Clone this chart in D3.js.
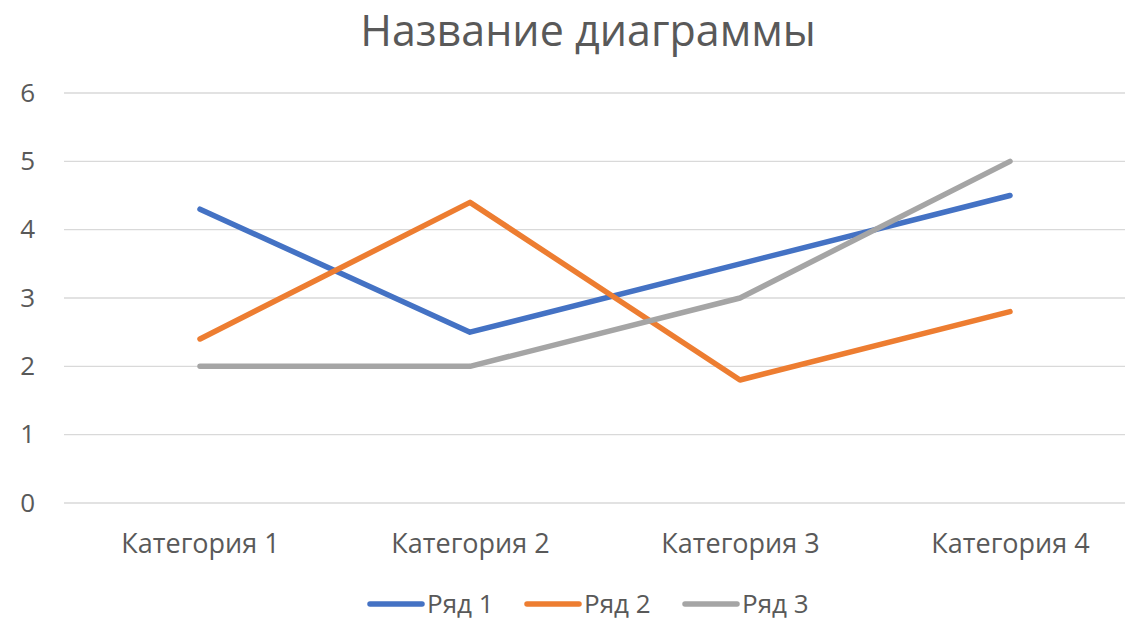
<!DOCTYPE html>
<html>
<head>
<meta charset="utf-8">
<script src="https://cdn.jsdelivr.net/npm/d3@7"></script>
<style>
  body { margin: 0; background: #fff; }
  text { font-family: "Open Sans", "Noto Sans", sans-serif; fill: #595959; }
</style>
</head>
<body>
<div id="chart-container"></div>
<script>
// data
const categories = ["Категория 1", "Категория 2", "Категория 3", "Категория 4"];
const seriesNames = ["Ряд 1", "Ряд 2", "Ряд 3"];
const series1 = [4.3, 2.5, 3.5, 4.5];
const series2 = [2.4, 4.4, 1.8, 2.8];
const series3 = [2, 2, 3, 5];
const yTicks = [0, 1, 2, 3, 4, 5, 6];
const colors = ["#4472C4", "#ED7D31", "#A5A5A5"];

const width = 1125, height = 621;

const svg = d3.select("#chart-container")
  .append("svg")
    .attr("width", width)
    .attr("height", height);

// scales
const x = d3.scalePoint().domain(categories).range([200, 1010]);
const y = d3.scaleLinear().domain([0, 6]).range([503, 93]);

// gridlines
svg.append("g")
  .selectAll("line")
  .data(yTicks)
  .join("line")
    .attr("x1", 64)
    .attr("x2", width)
    .attr("y1", d => y(d))
    .attr("y2", d => y(d))
    .attr("stroke", "#d9d9d9")
    .attr("stroke-width", 1.3);

// y labels
const yAxis = svg.append("g")
  .attr("transform", "translate(35,0)")
  .call(d3.axisLeft(y).tickValues(yTicks).tickSize(0).tickPadding(0).tickFormat(d3.format("d")));
yAxis.select(".domain").remove();
yAxis.selectAll("text")
  .attr("fill", "#595959")
  .style("font-size", "26px")
  .style("font-family", "'Open Sans', sans-serif");

// x labels
const xAxis = svg.append("g")
  .attr("transform", "translate(0,503)")
  .call(d3.axisBottom(x).tickSize(0).tickPadding(31));
xAxis.select(".domain").remove();
xAxis.selectAll("text")
  .attr("fill", "#595959")
  .style("font-size", "27px")
  .style("font-family", "'Open Sans', sans-serif");

// lines
const allSeries = [series1, series2, series3];
const line = d3.line()
  .x((d, i) => x(categories[i]))
  .y(d => y(d));

svg.append("g")
  .selectAll("path")
  .data(allSeries)
  .join("path")
    .attr("fill", "none")
    .attr("stroke", (d, i) => colors[i])
    .attr("stroke-width", 5.5)
    .attr("stroke-linecap", "round")
    .attr("stroke-linejoin", "round")
    .attr("d", line);

// title
svg.append("text")
  .attr("x", 588)
  .attr("y", 46)
  .attr("text-anchor", "middle")
  .style("font-size", "43px")
  .text("Название диаграммы");

// legend
const legendX = [370, 527, 685];
const legend = svg.append("g")
  .selectAll("g")
  .data(seriesNames)
  .join("g")
    .attr("transform", (d, i) => `translate(${legendX[i]},604)`);

legend.append("line")
  .attr("x1", 0)
  .attr("x2", 52)
  .attr("stroke", (d, i) => colors[i])
  .attr("stroke-width", 5.5)
  .attr("stroke-linecap", "round");

legend.append("text")
  .attr("x", 57)
  .attr("y", 9)
  .style("font-size", "26px")
  .text(d => d);
</script>
</body>
</html>
